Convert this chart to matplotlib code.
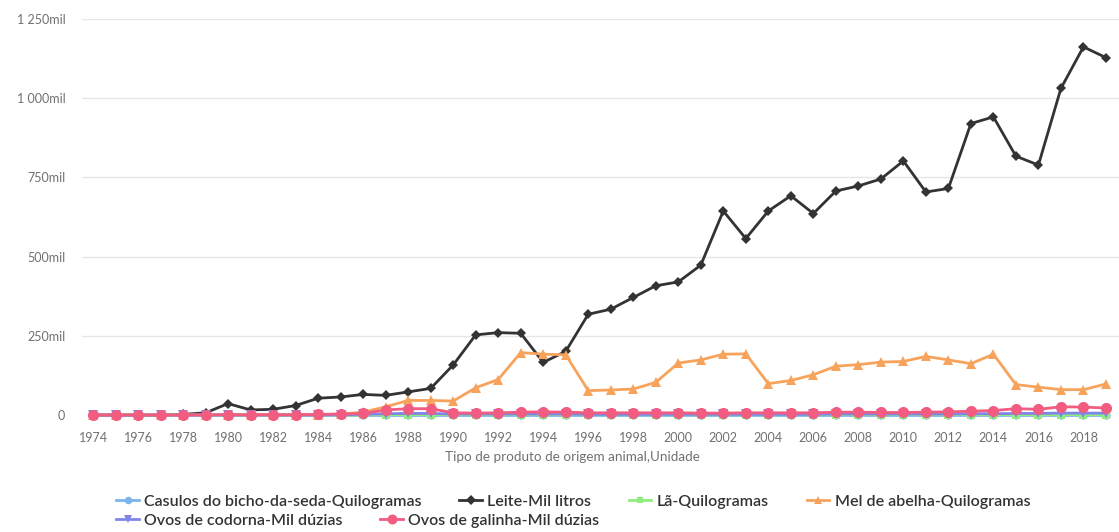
import matplotlib
matplotlib.use("Agg")
import matplotlib.pyplot as plt
from matplotlib.lines import Line2D
from matplotlib.ticker import FuncFormatter, MultipleLocator

plt.rcParams["font.family"] = ["Lato", "DejaVu Sans"]

# Produção de origem animal, 1974-2019 (valores em mil)
years = list(range(1974, 2020))

leite = [0, 0, 0, 0, 2, 7, 36, 16, 18, 30, 53, 57, 65, 62, 73, 84,
         158, 253, 260, 258, 166, 201, 318, 334, 371, 408, 420, 473,
         644, 557, 644, 692, 636, 707, 723, 745, 802, 704, 715, 920,
         941, 817, 789, 1031, 1162, 1128]

mel = [0, 0, 0, 0, 0, 0, 0, 0, 0, 0, 1, 3, 9, 26, 46, 46,
       44, 86, 112, 197, 192, 190, 77, 79, 82, 103, 164, 174,
       192, 193, 99, 109, 127, 154, 159, 167, 169, 185, 174, 162,
       192, 96, 88, 80, 80, 98]

ovos_galinha = [0, 0, 0, 0, 0, 1, 1, 1, 1, 1, 2, 3, 5, 16, 20, 20,
                7, 6, 7, 9, 10, 9, 7, 7, 7, 7, 7, 6,
                6, 7, 7, 7, 7, 9, 9, 8, 8, 9, 10, 12,
                14, 20, 18, 26, 25, 22]

ovos_codorna = [0, 0, 0, 0, 0, 0, 0, 0, 0, 0, 0, 1, 2, 4, 5, 5,
                3, 3, 3, 3, 3, 3, 2, 2, 2, 2, 2, 2,
                2, 2, 2, 2, 2, 3, 3, 3, 3, 3, 3, 4,
                4, 5, 5, 6, 6, 6]

la = [0, 0, 0, 0, 0, 0, 0, 0, 0, 0, 0, 0, 0, 1, 1, 1,
      1, 1, 1, 1, 1, 1, 1, 1, 1, 1, 1, 1,
      1, 1, 1, 1, 1, 1, 1, 1, 1, 1, 1, 1,
      1, 1, 1, 1, 1, 1]

casulos = [0, 0, 0, 0, 0, 0, 0, 0, 0, 0, 0, 0, 0, 0, 0, 0,
           0, 0, 0, 0, 0, 0, 0, 0, 0, 0, 0, 0,
           0, 0, 0, 0, 0, 0, 0, 0, 0, 0, 0, 0,
           0, 0, 0, 0, 0, 0]

series = [
    ("Casulos do bicho-da-seda-Quilogramas", casulos, "#7cb5ec", "o", 6),
    ("Leite-Mil litros", leite, "#333333", "D", 5.5),
    ("Lã-Quilogramas", la, "#90ed7d", "s", 5.5),
    ("Mel de abelha-Quilogramas", mel, "#f7a35c", "^", 7),
    ("Ovos de codorna-Mil dúzias", ovos_codorna, "#8085e9", "v", 7),
    ("Ovos de galinha-Mil dúzias", ovos_galinha, "#f15c80", "o", 8),
]


def fmt_mil(v, _pos):
    if v == 0:
        return "0"
    return "{:,.0f}mil".format(v).replace(",", " ")


fig = plt.figure(figsize=(11.19, 5.32), dpi=100)
ax = fig.add_axes([0.0733, 0.2199, 0.9267, 0.7444])

handles = []
for name, vals, color, marker, ms in series:
    ax.plot(years, vals, color=color, lw=2, marker=marker, ms=ms,
            markeredgewidth=0, clip_on=False, zorder=3)
    handles.append(Line2D([], [], color=color, lw=2, marker=marker,
                          ms=ms * 0.9, markeredgewidth=0, label=name))

ax.set_xlim(1973.51, 2019.58)
ax.set_ylim(0, 1250)
ax.yaxis.set_major_locator(MultipleLocator(250))
ax.yaxis.set_major_formatter(FuncFormatter(fmt_mil))
ax.set_xticks(range(1974, 2019, 2))

ax.grid(axis="y", color="#e6e6e6", lw=1)
ax.set_axisbelow(True)
for s in ax.spines.values():
    s.set_visible(False)
ax.tick_params(axis="both", length=0, labelsize=9, labelcolor="#707070")
ax.tick_params(axis="y", pad=12)
ax.tick_params(axis="x", pad=12)

ax.set_xlabel("Tipo de produto de origem animal,Unidade", fontsize=9.7,
              color="#707070", va="center")
ax.xaxis.set_label_coords(0.4725, -0.106)

legend_kw = dict(frameon=False, borderpad=0, borderaxespad=0,
                 handlelength=1.4, handletextpad=0.35, columnspacing=2.35,
                 prop={"size": 11.5, "weight": "semibold"})
leg1 = fig.legend(handles=handles[:4], ncol=4, loc="center left",
                  bbox_to_anchor=(0.104, 0.0564), **legend_kw)
leg2 = fig.legend(handles=handles[4:], ncol=2, loc="center left",
                  bbox_to_anchor=(0.104, 0.0207), **legend_kw)
for leg in (leg1, leg2):
    for t in leg.get_texts():
        t.set_color("#333333")

fig.savefig("out.png", dpi=100)
